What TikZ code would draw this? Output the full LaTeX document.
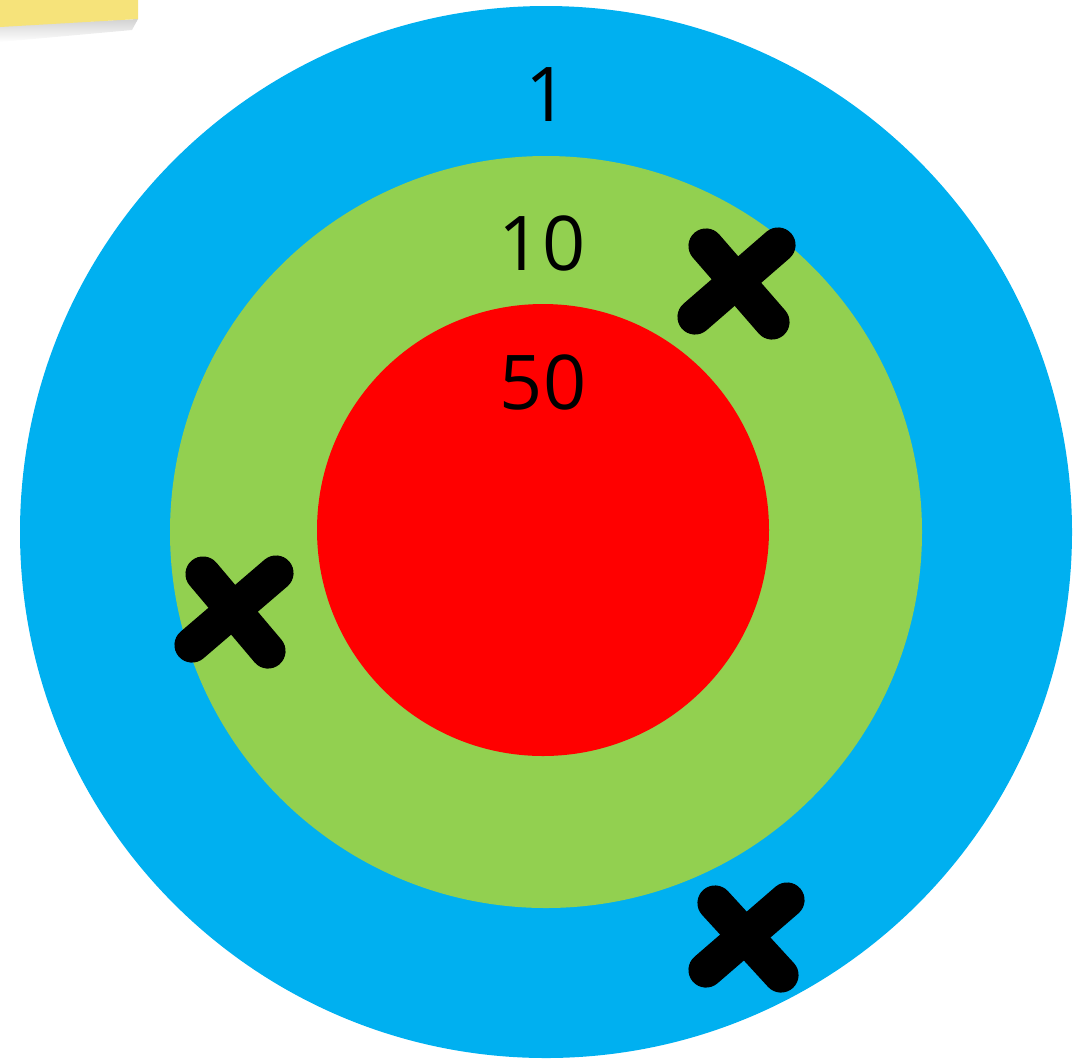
\documentclass[tikz,border=0pt]{standalone}
\usepackage{fontspec}
\setsansfont{Open Sans}
\usepackage{xcolor}
\definecolor{ringblue}{RGB}{0, 176, 240}
\definecolor{ringgreen}{RGB}{146, 208, 80}
\definecolor{ringred}{RGB}{255, 0, 0}
\definecolor{notey}{RGB}{246, 227, 122}
\usepackage{tikz}
\usetikzlibrary{positioning}

\begin{document}
\begin{tikzpicture}[
  x=0.02cm, y=-0.02cm,
  score/.style={font=\fontsize{43}{43}\selectfont\sffamily, text=black, inner sep=0pt},
  hit/.style={line width=20pt, line cap=round, draw=black}
]
\useasboundingbox (0,0) rectangle (1088,1059);
% sticky note in the corner
\shade[top color=gray!35, bottom color=white] (0,26) -- (138,19) -- (132,30) -- (0,42) -- cycle;
\fill[notey] (0,0) -- (138,0) -- (138,19) -- (0,27) -- cycle;
% target rings
\fill[ringblue] (546,532) circle (526);
\fill[ringgreen] (546,532) circle (376);
\fill[ringred] (543,530) circle (226);
% ring scores
\node[score] (one) at (547,95) {1};
\node[score] (ten) at (542,243) {10};
\node[score] (fifty) at (543,382) {50};
% hits
\draw[hit] (706,246) -- (772,322);
\draw[hit] (778,245) -- (695,317);
\draw[hit] (203,574) -- (268,651);
\draw[hit] (276,573) -- (192,645);
\draw[hit] (715,903) -- (781,975);
\draw[hit] (787,900) -- (706,970);
\end{tikzpicture}
\end{document}
